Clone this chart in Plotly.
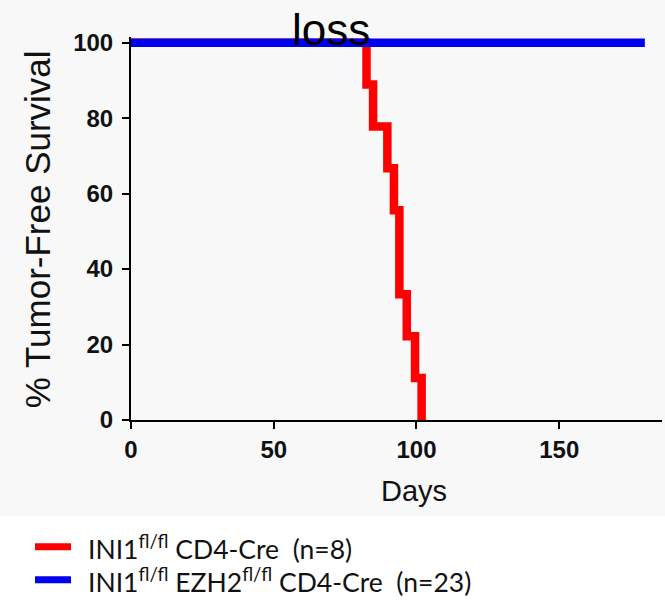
import plotly.graph_objects as go

# Kaplan-Meier tumor-free survival (percent) by day
red_days = [0, 82.5, 84.8, 89.8, 92.1, 94.0, 96.6, 99.5, 101.8]
red_surv = [100, 88.9, 77.8, 66.7, 55.6, 33.3, 22.2, 11.1, 0]
blue_days = [0, 180]
blue_surv = [100, 100]

red_name = "INI1<sup>fl/fl</sup> CD4-Cre\u00a0\u00a0(n=8)"
blue_name = "INI1<sup>fl/fl</sup> EZH2<sup>fl/fl</sup> CD4-Cre\u00a0\u00a0(n=23)"
red_color = "#ff0000"
blue_color = "#0000ee"

x_ticks = [0, 50, 100, 150]
y_ticks = [0, 20, 40, 60, 80, 100]

W, H = 665, 603
L, R, T, B = 131, 3, 36.5, 183

fig = go.Figure()
fig.add_trace(go.Scatter(
    x=red_days, y=red_surv, mode="lines", name=red_name, showlegend=False,
    line=dict(color=red_color, width=8.5, shape="hv"),
))
fig.add_trace(go.Scatter(
    x=blue_days, y=blue_surv, mode="lines", name=blue_name, showlegend=False,
    line=dict(color=blue_color, width=8.5, shape="hv"),
))

axis_common = dict(
    showline=True, linecolor="black", linewidth=2,
    ticks="outside", ticklen=7, tickwidth=2, tickcolor="black",
    showgrid=False, zeroline=False,
    tickfont=dict(family="Liberation Sans", size=24, color="#111", weight="bold"),
)

fig.update_xaxes(range=[0, 186], tickvals=x_ticks, **axis_common)
fig.update_yaxes(range=[0, 101.5], tickvals=y_ticks, ticklabelstandoff=4, **axis_common)

ph = H - T - B
pw = W - L - R


def px_x(px):
    return (px - L) / pw


def px_y(py):
    return (H - B - py) / ph


# key drawn below the chart: a short coloured bar and its label per series
key_rows = [(red_name, red_color, 547), (blue_name, blue_color, 580)]
key_shapes = []
key_texts = []
for name, color, yc in key_rows:
    key_shapes.append(dict(
        type="line", xref="paper", yref="paper",
        x0=px_x(35), x1=px_x(71), y0=px_y(yc), y1=px_y(yc),
        line=dict(color=color, width=7),
    ))
    key_texts.append(dict(
        text=name, xref="paper", yref="paper",
        x=px_x(86), y=px_y(yc + 1), xanchor="left", yanchor="middle",
        showarrow=False, font=dict(family="Lato", size=26.5, color="#111"),
    ))

fig.update_layout(
    width=W, height=H,
    margin=dict(l=L, r=R, t=T, b=B),
    paper_bgcolor="white",
    plot_bgcolor="rgba(0,0,0,0)",
    showlegend=False,
    shapes=[dict(
        type="rect", xref="paper", yref="paper",
        x0=px_x(0), x1=px_x(W), y0=px_y(516), y1=px_y(0),
        fillcolor="#f8f8f8", line=dict(width=0), layer="below",
    )] + key_shapes,
    annotations=[
        dict(text="loss", xref="paper", yref="paper",
             x=px_x(331), y=px_y(29), xanchor="center", yanchor="middle",
             showarrow=False,
             font=dict(family="Liberation Sans", size=44, color="black")),
        dict(text="Days", xref="paper", yref="paper",
             x=px_x(414), y=px_y(491), xanchor="center", yanchor="middle",
             showarrow=False,
             font=dict(family="Liberation Sans", size=29, color="#111")),
        dict(text="% Tumor-Free Survival", xref="paper", yref="paper",
             x=px_x(37), y=px_y(229), xanchor="center", yanchor="middle",
             textangle=-90, showarrow=False,
             font=dict(family="Liberation Sans", size=35, color="#111")),
    ] + key_texts,
)

fig.write_html("out.html")
